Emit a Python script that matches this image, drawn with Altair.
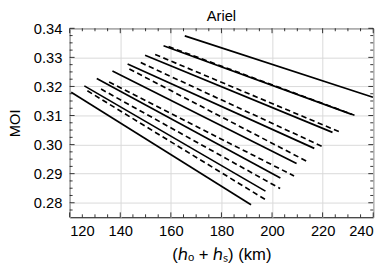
import altair as alt
import pandas as pd

# ---- data ----
solid_x0 = [120.6, 125.8, 130.7, 136.9, 142.9, 149.8, 157.1, 165.5]
solid_y0 = [0.3180, 0.3202, 0.3227, 0.3253, 0.3277, 0.3307, 0.3340, 0.3374]
solid_x1 = [191.7, 197.4, 203.3, 209.7, 216.7, 223.9, 231.5, 239.9]
solid_y1 = [0.2793, 0.2840, 0.2885, 0.2935, 0.2987, 0.3042, 0.3104, 0.3163]

dashed_x0 = [127.0, 132.4, 135.6, 143.6, 148.1, 153.8, 159.1]
dashed_y0 = [0.3185, 0.3191, 0.3215, 0.3260, 0.3282, 0.3310, 0.3337]
dashed_x1 = [198.1, 203.2, 208.7, 214.1, 220.0, 226.4, 232.6]
dashed_y1 = [0.2807, 0.2849, 0.2892, 0.2941, 0.2993, 0.3045, 0.3101]

x_major = [120, 140, 160, 180, 200, 220, 240]
x_minor = [125, 130, 135, 145, 150, 155, 165, 170, 175, 185, 190, 195,
           205, 210, 215, 225, 230, 235]
y_major = [0.28, 0.29, 0.30, 0.31, 0.32, 0.33, 0.34]
y_minor = [0.2775, 0.2825, 0.285, 0.2875, 0.2925, 0.295, 0.2975,
           0.3025, 0.305, 0.3075, 0.3125, 0.315, 0.3175, 0.3225, 0.325,
           0.3275, 0.3325, 0.335, 0.3375]

W, H = 310, 193
FONT = "Liberation Sans"


def segs(x0, y0, x1, y1):
    rows = []
    for i in range(len(x0)):
        rows.append({"id": i, "x": x0[i], "y": y0[i]})
        rows.append({"id": i, "x": x1[i], "y": y1[i]})
    return pd.DataFrame(rows)


solid_df = segs(solid_x0, solid_y0, solid_x1, solid_y1)
dashed_df = segs(dashed_x0, dashed_y0, dashed_x1, dashed_y1)

xs = alt.Scale(domain=[120, 240], nice=False, zero=False)
ys = alt.Scale(domain=[0.275, 0.34], nice=False, zero=False)

xaxis = alt.Axis(values=x_major, title="(ℎₒ + ℎₛ) (km)", ticks=False, domain=False,
                 grid=True, labelPadding=7, titlePadding=8, format="d",
                 titleFontSize=17)
yaxis = alt.Axis(values=y_major, title="MOI", ticks=False, domain=False,
                 grid=True, labelPadding=8, titlePadding=11, format=".2f")


def X(f):
    return alt.X(f, type="quantitative", scale=xs, axis=xaxis)


def Y(f):
    return alt.Y(f, type="quantitative", scale=ys, axis=yaxis)


solid = alt.Chart(solid_df).mark_line(color="black", strokeWidth=1.7, clip=True).encode(
    x=X("x"), y=Y("y"), detail="id:N")
dashed = alt.Chart(dashed_df).mark_line(color="black", strokeWidth=1.7,
                                        strokeDash=[5.5, 3.5], clip=True).encode(
    x=X("x"), y=Y("y"), detail="id:N")

xmaj = pd.DataFrame({"x": x_major})
xmin = pd.DataFrame({"x": x_minor})
ymaj = pd.DataFrame({"y": y_major})
ymin = pd.DataFrame({"y": y_minor})

tick_layers = []
for df, L in [(xmaj, 5), (xmin, 3)]:
    tick_layers.append(alt.Chart(df).mark_rule(color="black", strokeWidth=0.8).encode(
        x=X("x"), y=alt.value(H), y2=alt.value(H - L)))
    tick_layers.append(alt.Chart(df).mark_rule(color="black", strokeWidth=0.8).encode(
        x=X("x"), y=alt.value(0), y2=alt.value(L)))
for df, L in [(ymaj, 5), (ymin, 3)]:
    tick_layers.append(alt.Chart(df).mark_rule(color="black", strokeWidth=0.8).encode(
        y=Y("y"), x=alt.value(0), x2=alt.value(L)))
    tick_layers.append(alt.Chart(df).mark_rule(color="black", strokeWidth=0.8).encode(
        y=Y("y"), x=alt.value(W), x2=alt.value(W - L)))

chart = alt.layer(solid, dashed, *tick_layers).properties(
    width=W, height=H,
    title=alt.TitleParams("Ariel", font=FONT, fontSize=15, fontWeight="normal",
                          color="black", offset=-3),
    autosize=alt.AutoSizeParams(type="none"),
    padding={"left": 63, "top": 18, "right": 10, "bottom": 46},
).configure_view(
    stroke="black", strokeWidth=1
).configure_axis(
    labelFont=FONT, titleFont=FONT, labelFontSize=15, titleFontSize=15,
    labelColor="black", titleColor="black", titleFontWeight="normal",
    gridColor="#d9d9d9", gridWidth=1
)

chart.save("out.html", embed_options={"renderer": "svg", "actions": False})
